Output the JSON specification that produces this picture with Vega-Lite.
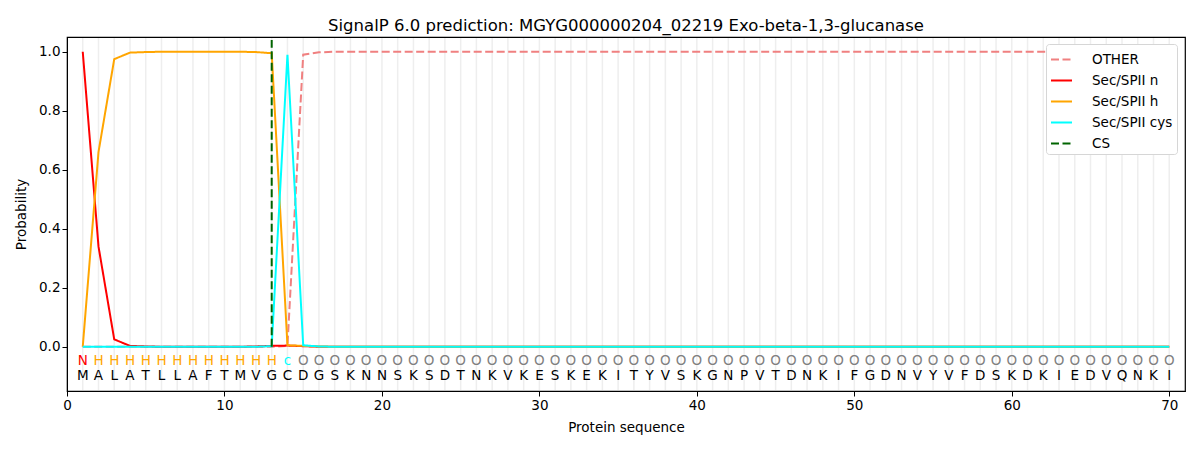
{
  "$schema": "https://vega.github.io/schema/vega-lite/v6.json",
  "width": 1118,
  "height": 354,
  "autosize": "none",
  "padding": {"left": 67, "top": 37, "right": 15, "bottom": 59},
  "background": "white",
  "title": {"text": "SignalP 6.0 prediction: MGYG000000204_02219 Exo-beta-1,3-glucanase", "font": "DejaVu Sans", "fontSize": 16.5, "fontWeight": "normal", "color": "black", "offset": 3},
  "config": {
    "font": "DejaVu Sans",
    "view": {"stroke": "black", "strokeWidth": 1.2},
    "axis": {"labelFont": "DejaVu Sans", "titleFont": "DejaVu Sans", "labelFontSize": 13.5, "titleFontSize": 13.5, "titleFontWeight": "normal", "labelColor": "black", "titleColor": "black", "domainColor": "black", "tickColor": "black", "tickSize": 5, "grid": false}
  },
  "data": {"values": [
    {"pos": 1, "aa": "M", "lab": "N", "other": 0, "n": 1.0, "h": 0, "cys": 0},
    {"pos": 2, "aa": "A", "lab": "H", "other": 0, "n": 0.34, "h": 0.66, "cys": 0},
    {"pos": 3, "aa": "L", "lab": "H", "other": 0, "n": 0.025, "h": 0.975, "cys": 0},
    {"pos": 4, "aa": "A", "lab": "H", "other": 0, "n": 0.003, "h": 0.997, "cys": 0},
    {"pos": 5, "aa": "T", "lab": "H", "other": 0, "n": 0.001, "h": 0.999, "cys": 0},
    {"pos": 6, "aa": "L", "lab": "H", "other": 0, "n": 0, "h": 1.0, "cys": 0},
    {"pos": 7, "aa": "L", "lab": "H", "other": 0, "n": 0, "h": 1.0, "cys": 0},
    {"pos": 8, "aa": "A", "lab": "H", "other": 0, "n": 0, "h": 1.0, "cys": 0},
    {"pos": 9, "aa": "F", "lab": "H", "other": 0, "n": 0, "h": 1.0, "cys": 0},
    {"pos": 10, "aa": "T", "lab": "H", "other": 0, "n": 0, "h": 1.0, "cys": 0},
    {"pos": 11, "aa": "M", "lab": "H", "other": 0, "n": 0, "h": 1.0, "cys": 0},
    {"pos": 12, "aa": "V", "lab": "H", "other": 0, "n": 0.001, "h": 0.999, "cys": 0},
    {"pos": 13, "aa": "G", "lab": "H", "other": 0, "n": 0.003, "h": 0.995, "cys": 0.002},
    {"pos": 14, "aa": "C", "lab": "c", "other": 0.003, "n": 0.004, "h": 0.005, "cys": 0.99},
    {"pos": 15, "aa": "D", "lab": "O", "other": 0.99, "n": 0.002, "h": 0.003, "cys": 0.005},
    {"pos": 16, "aa": "G", "lab": "O", "other": 0.998, "n": 0, "h": 0.001, "cys": 0.001},
    {"pos": 17, "aa": "S", "lab": "O", "other": 1, "n": 0, "h": 0, "cys": 0},
    {"pos": 18, "aa": "K", "lab": "O", "other": 1, "n": 0, "h": 0, "cys": 0},
    {"pos": 19, "aa": "N", "lab": "O", "other": 1, "n": 0, "h": 0, "cys": 0},
    {"pos": 20, "aa": "N", "lab": "O", "other": 1, "n": 0, "h": 0, "cys": 0},
    {"pos": 21, "aa": "S", "lab": "O", "other": 1, "n": 0, "h": 0, "cys": 0},
    {"pos": 22, "aa": "K", "lab": "O", "other": 1, "n": 0, "h": 0, "cys": 0},
    {"pos": 23, "aa": "S", "lab": "O", "other": 1, "n": 0, "h": 0, "cys": 0},
    {"pos": 24, "aa": "D", "lab": "O", "other": 1, "n": 0, "h": 0, "cys": 0},
    {"pos": 25, "aa": "T", "lab": "O", "other": 1, "n": 0, "h": 0, "cys": 0},
    {"pos": 26, "aa": "N", "lab": "O", "other": 1, "n": 0, "h": 0, "cys": 0},
    {"pos": 27, "aa": "K", "lab": "O", "other": 1, "n": 0, "h": 0, "cys": 0},
    {"pos": 28, "aa": "V", "lab": "O", "other": 1, "n": 0, "h": 0, "cys": 0},
    {"pos": 29, "aa": "K", "lab": "O", "other": 1, "n": 0, "h": 0, "cys": 0},
    {"pos": 30, "aa": "E", "lab": "O", "other": 1, "n": 0, "h": 0, "cys": 0},
    {"pos": 31, "aa": "S", "lab": "O", "other": 1, "n": 0, "h": 0, "cys": 0},
    {"pos": 32, "aa": "K", "lab": "O", "other": 1, "n": 0, "h": 0, "cys": 0},
    {"pos": 33, "aa": "E", "lab": "O", "other": 1, "n": 0, "h": 0, "cys": 0},
    {"pos": 34, "aa": "K", "lab": "O", "other": 1, "n": 0, "h": 0, "cys": 0},
    {"pos": 35, "aa": "I", "lab": "O", "other": 1, "n": 0, "h": 0, "cys": 0},
    {"pos": 36, "aa": "T", "lab": "O", "other": 1, "n": 0, "h": 0, "cys": 0},
    {"pos": 37, "aa": "Y", "lab": "O", "other": 1, "n": 0, "h": 0, "cys": 0},
    {"pos": 38, "aa": "V", "lab": "O", "other": 1, "n": 0, "h": 0, "cys": 0},
    {"pos": 39, "aa": "S", "lab": "O", "other": 1, "n": 0, "h": 0, "cys": 0},
    {"pos": 40, "aa": "K", "lab": "O", "other": 1, "n": 0, "h": 0, "cys": 0},
    {"pos": 41, "aa": "G", "lab": "O", "other": 1, "n": 0, "h": 0, "cys": 0},
    {"pos": 42, "aa": "N", "lab": "O", "other": 1, "n": 0, "h": 0, "cys": 0},
    {"pos": 43, "aa": "P", "lab": "O", "other": 1, "n": 0, "h": 0, "cys": 0},
    {"pos": 44, "aa": "V", "lab": "O", "other": 1, "n": 0, "h": 0, "cys": 0},
    {"pos": 45, "aa": "T", "lab": "O", "other": 1, "n": 0, "h": 0, "cys": 0},
    {"pos": 46, "aa": "D", "lab": "O", "other": 1, "n": 0, "h": 0, "cys": 0},
    {"pos": 47, "aa": "N", "lab": "O", "other": 1, "n": 0, "h": 0, "cys": 0},
    {"pos": 48, "aa": "K", "lab": "O", "other": 1, "n": 0, "h": 0, "cys": 0},
    {"pos": 49, "aa": "I", "lab": "O", "other": 1, "n": 0, "h": 0, "cys": 0},
    {"pos": 50, "aa": "F", "lab": "O", "other": 1, "n": 0, "h": 0, "cys": 0},
    {"pos": 51, "aa": "G", "lab": "O", "other": 1, "n": 0, "h": 0, "cys": 0},
    {"pos": 52, "aa": "D", "lab": "O", "other": 1, "n": 0, "h": 0, "cys": 0},
    {"pos": 53, "aa": "N", "lab": "O", "other": 1, "n": 0, "h": 0, "cys": 0},
    {"pos": 54, "aa": "V", "lab": "O", "other": 1, "n": 0, "h": 0, "cys": 0},
    {"pos": 55, "aa": "Y", "lab": "O", "other": 1, "n": 0, "h": 0, "cys": 0},
    {"pos": 56, "aa": "V", "lab": "O", "other": 1, "n": 0, "h": 0, "cys": 0},
    {"pos": 57, "aa": "F", "lab": "O", "other": 1, "n": 0, "h": 0, "cys": 0},
    {"pos": 58, "aa": "D", "lab": "O", "other": 1, "n": 0, "h": 0, "cys": 0},
    {"pos": 59, "aa": "S", "lab": "O", "other": 1, "n": 0, "h": 0, "cys": 0},
    {"pos": 60, "aa": "K", "lab": "O", "other": 1, "n": 0, "h": 0, "cys": 0},
    {"pos": 61, "aa": "D", "lab": "O", "other": 1, "n": 0, "h": 0, "cys": 0},
    {"pos": 62, "aa": "K", "lab": "O", "other": 1, "n": 0, "h": 0, "cys": 0},
    {"pos": 63, "aa": "I", "lab": "O", "other": 1, "n": 0, "h": 0, "cys": 0},
    {"pos": 64, "aa": "E", "lab": "O", "other": 1, "n": 0, "h": 0, "cys": 0},
    {"pos": 65, "aa": "D", "lab": "O", "other": 1, "n": 0, "h": 0, "cys": 0},
    {"pos": 66, "aa": "V", "lab": "O", "other": 1, "n": 0, "h": 0, "cys": 0},
    {"pos": 67, "aa": "Q", "lab": "O", "other": 1, "n": 0, "h": 0, "cys": 0},
    {"pos": 68, "aa": "N", "lab": "O", "other": 1, "n": 0, "h": 0, "cys": 0},
    {"pos": 69, "aa": "K", "lab": "O", "other": 1, "n": 0, "h": 0, "cys": 0},
    {"pos": 70, "aa": "I", "lab": "O", "other": 1, "n": 0, "h": 0, "cys": 0}
  ]},
  "layer": [
    {
      "mark": {"type": "rule", "color": "#eeeeee", "strokeWidth": 1.5},
      "encoding": {
        "x": {"field": "pos", "type": "quantitative", "scale": {"domain": [0, 71], "nice": false},
          "axis": {"values": [0, 10, 20, 30, 40, 50, 60, 70], "title": "Protein sequence", "labelFlush": false, "titlePadding": 9}},
        "y": {"datum": -0.147, "type": "quantitative"},
        "y2": {"datum": 1.047}
      }
    },
    {
      "transform": [{"fold": ["other", "n", "h", "cys"], "as": ["series", "prob"]}],
      "mark": {"type": "line", "strokeWidth": 2},
      "encoding": {
        "x": {"field": "pos", "type": "quantitative"},
        "y": {"field": "prob", "type": "quantitative", "scale": {"domain": [-0.15, 1.05], "nice": false},
          "axis": {"values": [0, 0.2, 0.4, 0.6, 0.8, 1.0], "format": ".1f", "title": "Probability", "titlePadding": 10}},
        "detail": {"field": "series"},
        "color": {"field": "series", "type": "nominal",
          "scale": {"domain": ["other", "n", "h", "cys", "cs"], "range": ["#f08080", "red", "orange", "cyan", "darkgreen"]},
          "legend": {"title": null, "orient": "none", "legendX": 979, "legendY": 7, "symbolType": "stroke", "symbolSize": 441, "symbolStrokeWidth": 2, "labelFontSize": 13.5, "labelFont": "DejaVu Sans", "labelColor": "black", "rowPadding": 3, "padding": 4, "labelOffset": 19, "strokeColor": "#d6d6d6", "fillColor": "white", "cornerRadius": 3,
            "labelExpr": "({'other': 'OTHER', 'n': 'Sec/SPII n', 'h': 'Sec/SPII h', 'cys': 'Sec/SPII cys', 'cs': 'CS'})[datum.label]"}},
        "strokeDash": {"field": "series", "type": "nominal",
          "scale": {"domain": ["other", "n", "h", "cys", "cs"], "range": [[8, 3.5], [1, 0], [1, 0], [1, 0], [8, 3.5]]},
          "legend": {"title": null, "orient": "none", "legendX": 979, "legendY": 7, "symbolType": "stroke", "symbolSize": 441, "symbolStrokeWidth": 2, "labelFontSize": 13.5, "labelFont": "DejaVu Sans", "labelColor": "black", "rowPadding": 3, "padding": 4, "labelOffset": 19, "strokeColor": "#d6d6d6", "fillColor": "white", "cornerRadius": 3,
            "labelExpr": "({'other': 'OTHER', 'n': 'Sec/SPII n', 'h': 'Sec/SPII h', 'cys': 'Sec/SPII cys', 'cs': 'CS'})[datum.label]"}}
      }
    },
    {
      "data": {"values": [{"pos": 13, "series": "cs", "low": 0, "top": 1.04}]},
      "mark": {"type": "rule", "strokeWidth": 2},
      "encoding": {
        "x": {"field": "pos", "type": "quantitative"},
        "y": {"field": "low", "type": "quantitative"},
        "y2": {"field": "top"},
        "color": {"field": "series", "type": "nominal"},
        "strokeDash": {"field": "series", "type": "nominal"}
      }
    },
    {
      "mark": {"type": "text", "fontSize": 13.5, "font": "DejaVu Sans", "baseline": "middle", "align": "center"},
      "encoding": {
        "x": {"field": "pos", "type": "quantitative"},
        "y": {"datum": -0.048},
        "text": {"field": "lab"},
        "color": {"condition": [
          {"test": "datum.lab === 'N'", "value": "red"},
          {"test": "datum.lab === 'H'", "value": "orange"},
          {"test": "datum.lab === 'c'", "value": "cyan"}
        ], "value": "grey"}
      }
    },
    {
      "mark": {"type": "text", "fontSize": 13.5, "font": "DejaVu Sans", "baseline": "middle", "align": "center", "color": "black"},
      "encoding": {
        "x": {"field": "pos", "type": "quantitative"},
        "y": {"datum": -0.1},
        "text": {"field": "aa"}
      }
    }
  ]
}
